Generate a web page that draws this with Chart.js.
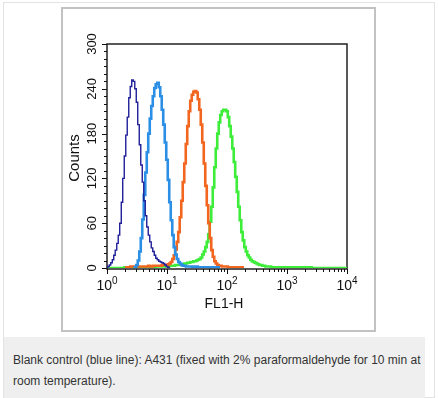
<!DOCTYPE html>
<html>
<head>
<meta charset="utf-8">
<script src="https://cdn.jsdelivr.net/npm/chart.js@4/dist/chart.umd.min.js"></script>
<style>
  body { margin: 0; background: #fff; font-family: "Liberation Sans", Arial, sans-serif; }
  #frame { position: absolute; left: 3px; top: 2px; width: 430px; height: 394px; border: 1px solid #e3e3e3; }
  #figure { position: absolute; left: 61px; top: 7px; width: 311px; height: 321px; border: 2px solid #c2c2c2; background: #fff; }
  #caption { position: absolute; left: 4px; top: 337px; width: 421px; height: 61px; padding: 13px 0 0 9px;
             box-sizing: border-box; background: #efefef; color: #333; font-size: 12px; line-height: 21px; }
</style>
</head>
<body>
<div id="frame"></div>
<div id="figure"><canvas id="myChart" width="311" height="321"></canvas></div>
<div id="caption">Blank control (blue line): A431 (fixed with 2% paraformaldehyde for 10 min at<br>room temperature).</div>
<script>
// FL1-H channel values (40 per decade) and the counts of each histogram
const fl1 = [
  1.00, 1.06, 1.12, 1.19, 1.26, 1.33, 1.41, 1.50, 1.58, 1.68, 1.78, 1.88, 2.00, 2.11, 2.24, 2.37, 2.51, 2.66, 2.82, 2.99,
  3.16, 3.35, 3.55, 3.76, 3.98, 4.22, 4.47, 4.73, 5.01, 5.31, 5.62, 5.96, 6.31, 6.68, 7.08, 7.50, 7.94, 8.41, 8.91, 9.44,
  10.0, 10.6, 11.2, 11.9, 12.6, 13.3, 14.1, 15.0, 15.8, 16.8, 17.8, 18.8, 20.0, 21.1, 22.4, 23.7, 25.1, 26.6, 28.2, 29.9,
  31.6, 33.5, 35.5, 37.6, 39.8, 42.2, 44.7, 47.3, 50.1, 53.1, 56.2, 59.6, 63.1, 66.8, 70.8, 75.0, 79.4, 84.1, 89.1, 94.4,
  100, 106, 112, 119, 126, 133, 141, 150, 158, 168, 178, 188, 200, 211, 224, 237, 251, 266, 282, 299,
  316, 335, 355, 376, 398, 422, 447, 473, 501, 531, 562, 596, 631, 668, 10000];

// blank control (dark blue), from channel 0
const blankCounts = [1, 2, 4, 7, 11, 17, 24, 33, 44, 60, 88, 120, 150, 178, 202, 228, 243, 252, 250, 240,
  222, 192, 165, 138, 115, 90, 70, 55, 44, 35, 27, 22, 17, 13, 11, 9, 8, 7, 6, 4,
  2, 1, 0];
// light blue, from channel 18
const blueCounts = [0, 1, 4, 10, 22, 40, 65, 98, 128, 155, 180, 200, 217, 230, 241, 246, 248, 242, 230, 212,
  192, 168, 145, 118, 88, 64, 44, 28, 18, 12, 8, 6, 4, 3, 3, 2, 2, 2, 2, 1,
  2, 1, 2, 1, 1, 1, 1, 1, 1, 1, 1, 1, 1, 1, 1, 1, 1, 0];
// orange, from channel 12
const orangeCounts = [1, 1, 1, 1, 2, 2, 2, 2, 2, 2, 2, 2, 2, 2, 2, 2, 3, 2, 2, 3,
  3, 3, 3, 3, 3, 4, 4, 4, 4, 5, 6, 8, 12, 17, 25, 35, 48, 68, 90, 115,
  140, 166, 190, 210, 224, 232, 236, 237, 235, 226, 212, 192, 168, 140, 110, 84, 60, 40, 24, 15,
  9, 6, 4, 3, 3, 2, 2, 2, 2, 1, 1, 1, 1, 1, 1, 1, 1, 1, 1, 0];
// green, every channel
const greenCounts = [0, 0, 0, 0, 0, 0, 0, 0, 0, 0, 0, 0, 1, 1, 0, 1, 1, 1, 1, 1,
  1, 1, 1, 1, 1, 1, 1, 1, 1, 2, 2, 1, 1, 2, 2, 2, 2, 2, 2, 2,
  2, 2, 3, 3, 3, 3, 4, 4, 4, 4, 5, 5, 6, 6, 7, 7, 8, 8, 9, 9,
  10, 11, 12, 14, 18, 22, 28, 35, 45, 62, 82, 108, 135, 160, 180, 195, 205, 210, 212, 212,
  210, 202, 190, 176, 160, 142, 122, 102, 82, 64, 48, 37, 28, 22, 17, 14, 11, 9, 8, 7,
  6, 5, 4, 4, 3, 3, 2, 2, 2, 2, 1, 1, 1, 1, 0];

const yTicks = [0, 60, 120, 180, 240, 300];
const xDecades = [0, 1, 2, 3, 4];

function toPoints(counts, start) {
  return counts.map((c, i) => ({ x: fl1[start + i], y: c }));
}

const axisDecor = {
  id: "axisDecor",
  beforeDatasetsDraw(chart) {
    const { ctx, chartArea: a, scales: { x, y } } = chart;
    ctx.save();
    ctx.strokeStyle = "#222";
    ctx.lineWidth = 1.5;
    ctx.strokeRect(a.left, a.top, a.right - a.left, a.bottom - a.top + 1);

    ctx.lineWidth = 1;
    ctx.strokeStyle = "#111";
    ctx.beginPath();
    for (let v = 0; v <= 300; v += 10) {
      const py = Math.round(y.getPixelForValue(v)) + 0.5;
      const len = v % 60 === 0 ? 5 : 3;
      ctx.moveTo(a.left - len, py);
      ctx.lineTo(a.left, py);
    }
    const by = a.bottom + 1;
    for (let d = 0; d < 4; d++) {
      for (let m = 1; m < 10; m++) {
        const px = Math.round(x.getPixelForValue(m * Math.pow(10, d))) + 0.5;
        ctx.moveTo(px, by);
        ctx.lineTo(px, by + (m === 1 ? 5 : 3));
      }
    }
    const pEnd = Math.round(x.getPixelForValue(10000)) + 0.5;
    ctx.moveTo(pEnd, by);
    ctx.lineTo(pEnd, by + 5);
    ctx.stroke();

    ctx.fillStyle = "#111";
    ctx.font = "13px 'Liberation Sans', Arial";
    ctx.textAlign = "center";
    ctx.textBaseline = "middle";
    yTicks.forEach((t) => {
      ctx.save();
      ctx.translate(a.left - 15, y.getPixelForValue(t));
      ctx.rotate(-Math.PI / 2);
      ctx.fillText(String(t), 0, 0);
      ctx.restore();
    });

    ctx.save();
    ctx.font = "15px 'Liberation Sans', Arial";
    ctx.translate(a.left - 32, (a.top + a.bottom) / 2 + 2);
    ctx.rotate(-Math.PI / 2);
    ctx.fillText("Counts", 0, 0);
    ctx.restore();

    ctx.textAlign = "left";
    ctx.textBaseline = "alphabetic";
    xDecades.forEach((d) => {
      const px = x.getPixelForValue(Math.pow(10, d));
      ctx.font = "14px 'Liberation Sans', Arial";
      const w1 = ctx.measureText("10").width;
      ctx.font = "10px 'Liberation Sans', Arial";
      const w2 = ctx.measureText(String(d)).width;
      const x0 = px - (w1 + w2) / 2;
      ctx.font = "14px 'Liberation Sans', Arial";
      ctx.fillText("10", x0, a.bottom + 22);
      ctx.font = "10px 'Liberation Sans', Arial";
      ctx.fillText(String(d), x0 + w1, a.bottom + 16);
    });

    ctx.font = "14px 'Liberation Sans', Arial";
    ctx.textAlign = "center";
    ctx.fillText("FL1-H", (a.left + a.right) / 2 - 3, a.bottom + 40);
    ctx.restore();
  },
};

const ctx = document.getElementById("myChart");
const myChart = new Chart(ctx, {
  type: "line",
  data: {
    datasets: [
      { data: toPoints(blankCounts, 0), borderColor: "#20209a", borderWidth: 1.4 },
      { data: toPoints(blueCounts, 18), borderColor: "#2c8fe6", borderWidth: 2.6 },
      { data: toPoints(orangeCounts, 12), borderColor: "#f2661f", borderWidth: 2.6 },
      { data: toPoints(greenCounts, 0), borderColor: "#3ded3a", borderWidth: 2.6 },
    ],
  },
  options: {
    responsive: false,
    animation: false,
    layout: { padding: { left: 44, top: 35, right: 27, bottom: 62 } },
    elements: { point: { radius: 0 }, line: { stepped: "middle", tension: 0 } },
    scales: {
      x: { type: "logarithmic", min: 1, max: 10000, display: false },
      y: { min: 0, max: 300, display: false },
    },
    plugins: { legend: { display: false }, tooltip: { enabled: false } },
  },
  plugins: [axisDecor],
});
</script>
</body>
</html>
